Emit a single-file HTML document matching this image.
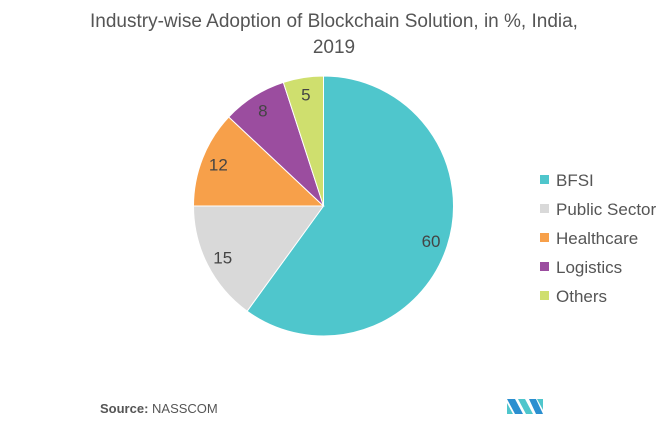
<!DOCTYPE html>
<html><head><meta charset="utf-8"><style>
body{margin:0;width:669px;height:425px;background:#fff;font-family:"Liberation Sans",sans-serif;overflow:hidden}
</style></head><body>
<svg width="669" height="425">
<text x="334" y="27" text-anchor="middle" font-size="19" fill="#555">Industry-wise Adoption of Blockchain Solution, in %, India,</text>
<text x="334" y="53" text-anchor="middle" font-size="19" fill="#555">2019</text>
<g id="pie"></g>
<g id="legend"></g>
<text x="100" y="413" font-size="13" fill="#555"><tspan font-weight="bold">Source:</tspan> NASSCOM</text>
<g>
<polygon points="507,399 515,399 523,414 515,414" fill="#2b8fd0"/>
<polygon points="507,403 513,414 507,414" fill="#4fc6cc"/>
<polygon points="518,399 525,399 533,414 526,414" fill="#4fc6cc"/>
<polygon points="529,399 536,399 543,414 536,414" fill="#2b8fd0"/>
<polygon points="537,399 543,399 543,410" fill="#4fc6cc"/>
</g>
</svg>
<script>
const categories=["BFSI","Public Sector","Healthcare","Logistics","Others"];
const values=[60,15,12,8,5];
const colors=["#4fc6cc","#d9d9d9","#f7a04a","#9b4d9f","#cfdf6e"];
const cx=323.5,cy=206,r=130;
const ns="http://www.w3.org/2000/svg";
const pie=document.getElementById('pie');
const total=values.reduce((a,b)=>a+b,0);
let a0=0;
values.forEach((v,i)=>{
  const a1=a0+v/total*2*Math.PI;
  const p=(a)=>[cx+r*Math.sin(a),cy-r*Math.cos(a)];
  const [x0,y0]=p(a0),[x1,y1]=p(a1);
  const path=document.createElementNS(ns,'path');
  path.setAttribute('d',`M${cx},${cy}L${x0},${y0}A${r},${r} 0 ${a1-a0>Math.PI?1:0} 1 ${x1},${y1}Z`);
  path.setAttribute('fill',colors[i]);path.setAttribute('stroke','#fff');path.setAttribute('stroke-width','1');
  
  
  pie.appendChild(path);
  const m=(a0+a1)/2, lr=0.87;
  const t=document.createElementNS(ns,'text');
  t.setAttribute('x',cx+lr*r*Math.sin(m));t.setAttribute('y',cy-lr*r*Math.cos(m)+6);
  t.setAttribute('text-anchor','middle');t.setAttribute('font-size','17');t.setAttribute('fill','#444');
  t.textContent=v;
  
  
  pie.appendChild(t);
  a0=a1;
});
const lg=document.getElementById('legend');
categories.forEach((c,i)=>{
  const y=181+i*29;
  const g=document.createElementNS(ns,'g');
  
  
  const rc=document.createElementNS(ns,'rect');
  rc.setAttribute('x',540);rc.setAttribute('y',y-6);rc.setAttribute('width',9);rc.setAttribute('height',9);rc.setAttribute('fill',colors[i]);
  const t=document.createElementNS(ns,'text');
  t.setAttribute('x',556);t.setAttribute('y',y+5);t.setAttribute('font-size','17');t.setAttribute('fill','#555');t.textContent=c;
  g.appendChild(rc);g.appendChild(t);lg.appendChild(g);
});
</script>
</body></html>
